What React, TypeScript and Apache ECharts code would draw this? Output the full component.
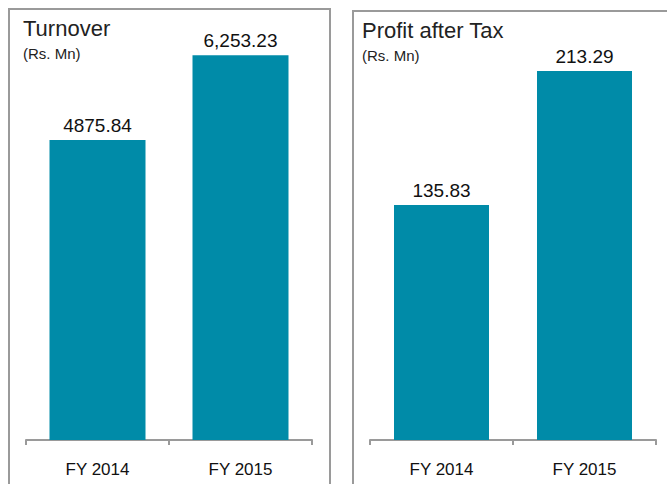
import React, { useEffect, useRef } from "react";
import * as echarts from "echarts";

const categories = ["FY 2014", "FY 2015"];
const turnoverValues = [4875.84, 6253.23];
const turnoverLabels = ["4875.84", "6,253.23"];
const patValues = [135.83, 213.29];
const patLabels = ["135.83", "213.29"];
const panelTitles = ["Turnover", "Profit after Tax"];
const unitLabel = "(Rs. Mn)";

const BAR = "#008ba8";
const GRAY = "#9a9a9a";
const FONT = "'Liberation Sans', Arial, Helvetica, sans-serif";

export default function App() {
  const ref = useRef<HTMLDivElement>(null);
  useEffect(() => {
    if (!ref.current) return;
    const chart = echarts.init(ref.current, undefined, { renderer: "svg" });
    const xAxisCommon = {
      type: "category" as const,
      data: categories,
      boundaryGap: true,
      axisLine: { lineStyle: { color: GRAY, width: 2 } },
      axisTick: { show: true, length: 5, lineStyle: { color: GRAY, width: 2 } },
      axisLabel: { color: "#111", fontFamily: FONT, fontSize: 17, margin: 21 },
    };
    const yAxisCommon = {
      type: "value" as const,
      min: 0,
      show: false,
      splitLine: { show: false },
    };
    chart.setOption({
      animation: false,
      backgroundColor: "#fff",
      grid: [
        { left: 26, width: 286, top: 9.3, bottom: 44 },
        { left: 370, width: 286, top: 7.5, bottom: 44 },
      ],
      xAxis: [
        { ...xAxisCommon, gridIndex: 0 },
        { ...xAxisCommon, gridIndex: 1 },
      ],
      yAxis: [
        { ...yAxisCommon, gridIndex: 0, max: 7000 },
        { ...yAxisCommon, gridIndex: 1, max: 250 },
      ],
      series: [
        {
          type: "bar",
          xAxisIndex: 0,
          yAxisIndex: 0,
          data: turnoverValues,
          barWidth: 96,
          itemStyle: { color: BAR },
          label: {
            show: true,
            position: "top",
            distance: 5,
            color: "#111",
            fontFamily: FONT,
            fontSize: 19,
            formatter: (p: any) => turnoverLabels[p.dataIndex],
          },
        },
        {
          type: "bar",
          xAxisIndex: 1,
          yAxisIndex: 1,
          data: patValues,
          barWidth: 95,
          itemStyle: { color: BAR },
          label: {
            show: true,
            position: "top",
            distance: 5,
            color: "#111",
            fontFamily: FONT,
            fontSize: 19,
            formatter: (p: any) => patLabels[p.dataIndex],
          },
        },
      ],
      graphic: [
        {
          type: "rect",
          shape: { x: 9, y: 9, width: 321, height: 500 },
          style: { fill: "none", stroke: GRAY, lineWidth: 2 },
          z: 0,
        },
        {
          type: "rect",
          shape: { x: 353, y: 11, width: 330, height: 500 },
          style: { fill: "none", stroke: GRAY, lineWidth: 2 },
          z: 0,
        },
        {
          type: "text",
          x: 23,
          y: 17,
          style: { text: panelTitles[0], font: `22px ${FONT}`, fill: "#222", textVerticalAlign: "top" },
        },
        {
          type: "text",
          x: 23,
          y: 46,
          style: { text: unitLabel, font: `15px ${FONT}`, fill: "#222", textVerticalAlign: "top" },
        },
        {
          type: "text",
          x: 362,
          y: 19,
          style: { text: panelTitles[1], font: `22px ${FONT}`, fill: "#222", textVerticalAlign: "top" },
        },
        {
          type: "text",
          x: 362,
          y: 48,
          style: { text: unitLabel, font: `15px ${FONT}`, fill: "#222", textVerticalAlign: "top" },
        },
      ],
    });
    return () => chart.dispose();
  }, []);
  return (
    <div
      ref={ref}
      style={{ position: "fixed", left: 0, top: 0, width: 667, height: 484 }}
    />
  );
}
